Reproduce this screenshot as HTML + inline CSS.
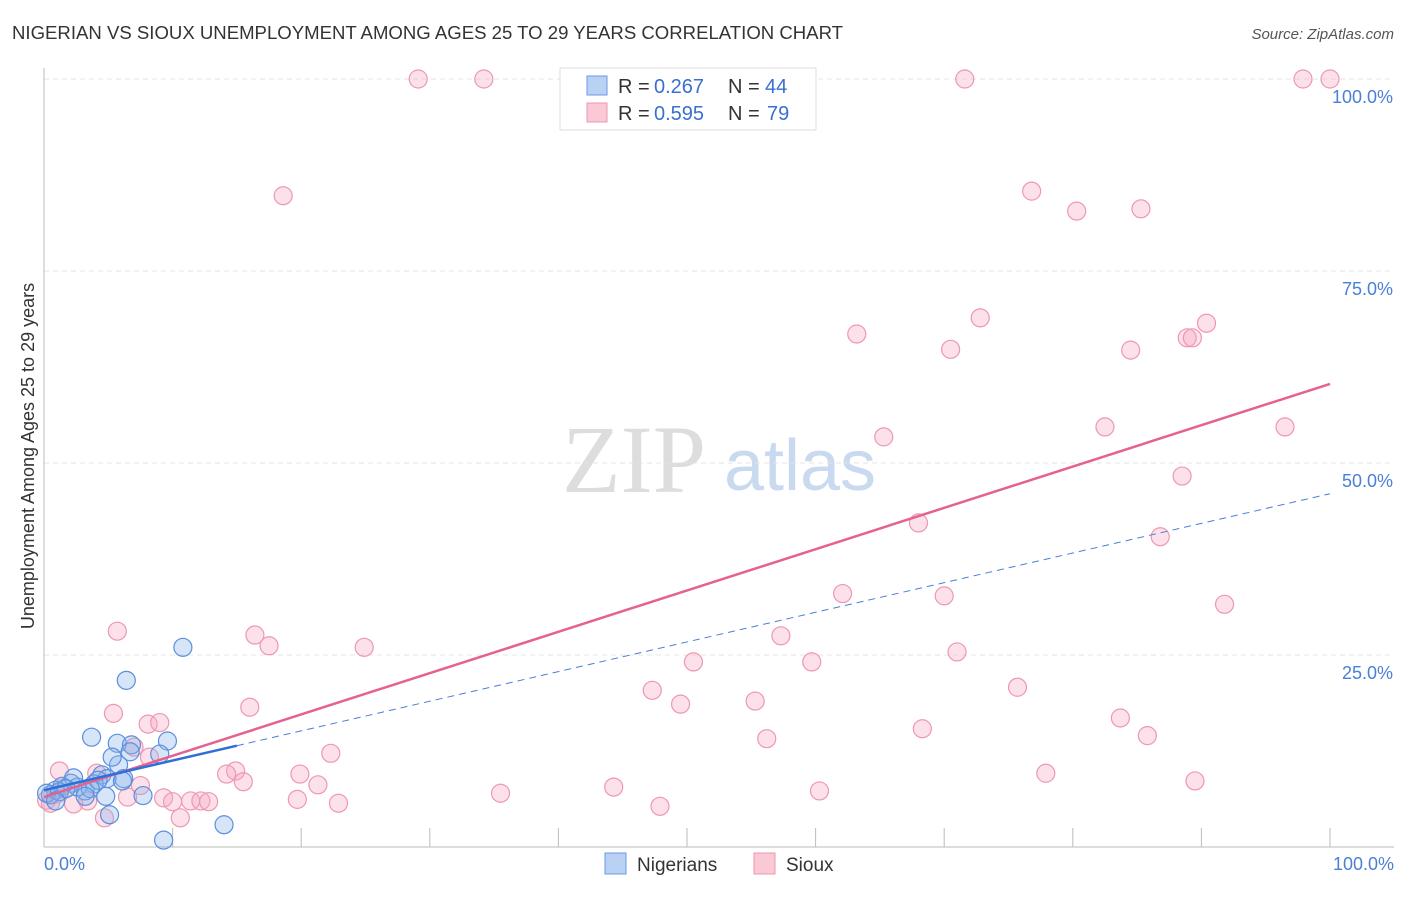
<!DOCTYPE html>
<html><head><meta charset="utf-8"><style>
body{margin:0;background:#fff;font-family:"Liberation Sans",sans-serif}
</style></head><body>
<svg id="chart" width="1406" height="892" xmlns="http://www.w3.org/2000/svg">
<text x="12" y="39" font-size="18" fill="#333" textLength="831" lengthAdjust="spacingAndGlyphs">NIGERIAN VS SIOUX UNEMPLOYMENT AMONG AGES 25 TO 29 YEARS CORRELATION CHART</text>
<text x="1394" y="39" font-size="15" fill="#555" font-style="italic" text-anchor="end">Source: ZipAtlas.com</text>
<text x="634" y="492" font-size="96" fill="#ddd" font-family="Liberation Serif,serif" text-anchor="middle">ZIP</text>
<text x="800" y="490" font-size="72" fill="#c9d9f0" text-anchor="middle">atlas</text>
<g id="grid"></g><g id="axes"></g><g id="pts"></g><g id="lines"></g>
<text transform="translate(34,456) rotate(-90)" font-size="18" fill="#333" text-anchor="middle">Unemployment Among Ages 25 to 29 years</text>
<g>
<rect x="560" y="68" width="256" height="62" fill="#fff" stroke="#ddd"/>
<rect x="587" y="76" width="20" height="19" fill="#b9d2f3" stroke="#6a9be0"/>
<rect x="587" y="103" width="20" height="19" fill="#fbc8d6" stroke="#ee97b0"/>
<text x="618" y="93" font-size="20" fill="#333">R =</text><text x="654" y="93" font-size="20" fill="#3a6fd0">0.267</text>
<text x="728" y="93" font-size="20" fill="#333">N =</text><text x="765" y="93" font-size="20" fill="#3a6fd0">44</text>
<text x="618" y="120" font-size="20" fill="#333">R =</text><text x="654" y="120" font-size="20" fill="#3a6fd0">0.595</text>
<text x="728" y="120" font-size="20" fill="#333">N =</text><text x="767" y="120" font-size="20" fill="#3a6fd0">79</text>
</g>
<g>
<rect x="605" y="853" width="21" height="21" fill="#b9d2f3" stroke="#6a9be0"/>
<text x="637" y="871" font-size="19" fill="#333">Nigerians</text>
<rect x="754" y="853" width="21" height="21" fill="#fbc8d6" stroke="#ee97b0"/>
<text x="786" y="871" font-size="19" fill="#333">Sioux</text>
</g>
</svg>
<script>
const yTicks=[25,50,75,100];
const yTickLabels=["25.0%","50.0%","75.0%","100.0%"];
const blueX=[10.8,6.4,3.7,5.7,6.8,9.6,9.0,4.5,5.8,6.2,4.9,3.9,3.2,4.2,2.1,1.4,0.9,0.5,0.2,2.6,3.6,4.8,7.7,5.1,9.3,14.0,2.3,5.3,6.7,1.2,1.7,6.1,0.9,3.2];
const blueY=[26.0,21.7,14.3,13.5,13.3,13.8,12.1,9.4,10.7,8.9,8.9,8.2,7.3,8.7,8.3,7.9,7.4,6.8,7.0,7.8,7.6,6.6,6.7,4.2,0.9,2.9,9.0,11.7,12.4,7.2,7.6,8.6,6.0,6.6];
const pinkX=[29.1,34.2,71.6,97.9,100,18.6,76.8,80.3,85.3,63.2,72.8,70.5,84.5,88.9,89.3,90.4,65.3,82.5,96.5,88.5,68.0,86.8,62.1,70.0,91.8,5.7,16.4,17.5,24.9,57.3,50.5,59.7,71.0,47.3,49.5,55.3,75.7,16.0,5.4,8.1,9.0,68.3,83.7,56.2,85.8,22.3,7.0,8.2,1.2,4.1,19.9,21.3,77.9,14.9,14.2,15.5,7.5,44.3,60.3,89.5,9.3,10.0,11.4,12.2,12.8,19.7,22.9,35.5,47.9,6.5,2.3,3.4,10.6,4.7,1.0,0.2,0.5];
const pinkY=[100,100,100,100,100,84.8,85.4,82.8,83.1,66.8,68.9,64.8,64.7,66.3,66.3,68.2,53.4,54.7,54.7,48.3,42.2,40.4,33.0,32.7,31.6,28.1,27.6,26.2,26.0,27.5,24.1,24.1,25.4,20.4,18.6,19.0,20.8,18.2,17.4,16.0,16.2,15.4,16.8,14.1,14.5,12.2,13.0,11.7,9.9,9.6,9.5,8.1,9.6,9.9,9.5,8.5,8.0,7.8,7.3,8.6,6.4,5.9,6.0,6.0,5.9,6.2,5.7,7.0,5.3,6.5,5.6,6.0,3.8,3.8,6.9,6.1,5.7];
const pinkTrend=[6.5,60.3];
const blueTrend=[7.4,46.0];
const blueSolidEnd=15;
const NS="http://www.w3.org/2000/svg";
const X=v=>44+v*12.86, Y=v=>847-v*7.68;
function mk(t,a,p){const e=document.createElementNS(NS,t);for(const k in a)e.setAttribute(k,a[k]);p.appendChild(e);return e;}
const grid=document.getElementById('grid'),axes=document.getElementById('axes'),pts=document.getElementById('pts'),lines=document.getElementById('lines');
yTicks.forEach((t,i)=>{
 const l=mk('line',{x1:44,x2:1394,y1:Y(t),y2:Y(t),stroke:'#e4e4e4','stroke-dasharray':'5,4'},grid);
 
 
 const tx=mk('text',{x:1393,y:Y(t)+24,'font-size':18,fill:'#4a7fd6','text-anchor':'end'},axes);
 tx.textContent=yTickLabels[i];
 
 
});
const ax=mk('line',{x1:44,x2:44,y1:68,y2:847,stroke:'#bbb'},axes);


const bx=mk('line',{x1:44,x2:1394,y1:847,y2:847,stroke:'#bbb'},axes);


for(let i=1;i<=10;i++){const tk=mk('line',{x1:X(i*10),x2:X(i*10),y1:828,y2:847,stroke:'#bbb'},axes);
 
 }
const x0=mk('text',{x:44,y:870,'font-size':18,fill:'#4a7fd6'},axes);x0.textContent='0.0%';


const x1=mk('text',{x:1394,y:870,'font-size':18,fill:'#4a7fd6','text-anchor':'end'},axes);x1.textContent='100.0%';


pinkX.forEach((v,i)=>{const c=mk('circle',{cx:X(v),cy:Y(pinkY[i]),r:9,fill:'rgba(247,170,195,0.35)',stroke:'#ee97b0','stroke-width':1.2},pts);
 
 });
blueX.forEach((v,i)=>{const c=mk('circle',{cx:X(v),cy:Y(blueY[i]),r:9,fill:'rgba(140,180,235,0.35)',stroke:'#5b8fde','stroke-width':1.2},pts);
 
 });
const pl=mk('line',{x1:X(0),y1:Y(pinkTrend[0]),x2:X(100),y2:Y(pinkTrend[1]),stroke:'#e5628f','stroke-width':2.5},lines);


const bAt=v=>blueTrend[0]+(blueTrend[1]-blueTrend[0])*v/100;
const bd=mk('line',{x1:X(blueSolidEnd),y1:Y(bAt(blueSolidEnd)),x2:X(100),y2:Y(blueTrend[1]),stroke:'#4a7fd6','stroke-width':1,'stroke-dasharray':'7,5'},lines);


const bs=mk('line',{x1:X(0),y1:Y(blueTrend[0]),x2:X(blueSolidEnd),y2:Y(bAt(blueSolidEnd)),stroke:'#2f6fd6','stroke-width':2.5},lines);


</script>
</body></html>
